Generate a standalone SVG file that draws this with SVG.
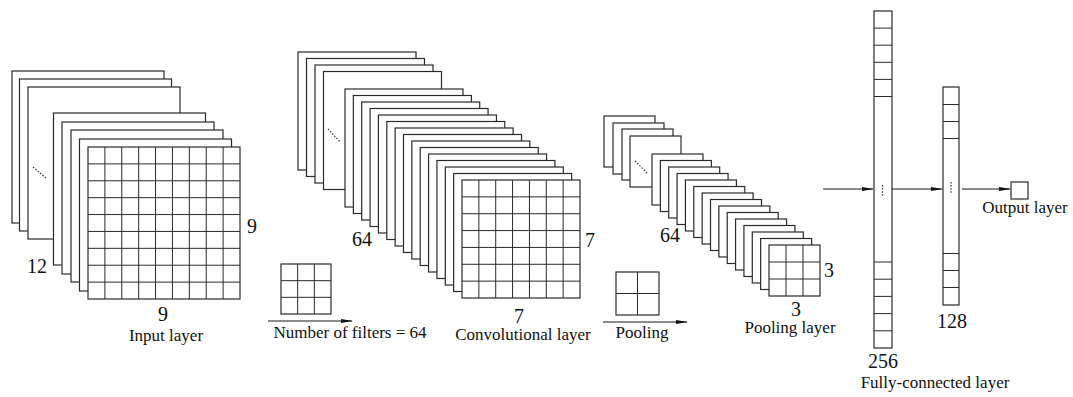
<svg xmlns="http://www.w3.org/2000/svg" width="1073" height="397" viewBox="0 0 1073 397">
<style>
.sh{fill:#fff;stroke:#2a2a2a;stroke-width:1.2}
.gl{stroke:#2a2a2a;stroke-width:1;fill:none}
.dt{stroke:#333;stroke-width:1.2;stroke-dasharray:1.5 1.6;fill:none}
.ar{stroke:#1a1a1a;stroke-width:1.1;fill:none;marker-end:url(#ah)}
.num{font-family:"Liberation Serif","Times New Roman",serif;font-size:20px;fill:#111;text-anchor:middle}
.lbl{font-family:"Liberation Serif","Times New Roman",serif;font-size:17px;fill:#111;text-anchor:middle}
</style>
<defs>
<marker id="ah" markerUnits="userSpaceOnUse" markerWidth="12" markerHeight="6" refX="11" refY="3" orient="auto">
<path d="M0,1 L12,3 L0,5 z" fill="#111"/>
</marker>
</defs>
<rect width="1073" height="397" fill="#fff"/>

<g id="input-layer">
<rect class="sh" x="12" y="71" width="152" height="152"/>
<rect class="sh" x="19.5" y="79" width="152" height="152"/>
<rect class="sh" x="28" y="87" width="152" height="152"/>
<line class="dt" x1="33" y1="167" x2="46" y2="178"/>
<rect class="sh" x="53.5" y="113" width="152" height="152"/>
<rect class="sh" x="62" y="122" width="152" height="152"/>
<rect class="sh" x="71" y="130" width="152" height="152"/>
<rect class="sh" x="79.5" y="139" width="152" height="152"/>
<rect class="sh" x="88" y="147" width="152" height="152"/>
<path class="gl" d="M104.89,147V299M121.78,147V299M138.67,147V299M155.56,147V299M172.44,147V299M189.33,147V299M206.22,147V299M223.11,147V299M88,163.89H240M88,180.78H240M88,197.67H240M88,214.56H240M88,231.44H240M88,248.33H240M88,265.22H240M88,282.11H240"/>
<text class="num" x="37" y="273">12</text>
<text class="num" x="252" y="233">9</text>
<text class="num" x="163" y="321">9</text>
<text class="lbl" x="166" y="341">Input layer</text>
</g>

<g id="conv-filter">
<rect class="sh" x="281" y="264" width="50" height="50"/>
<path class="gl" d="M297.67,264V314M314.33,264V314M281,280.67H331M281,297.33H331"/>
</g>

<g id="conv-layer">
<rect class="sh" x="298" y="52" width="118" height="118"/>
<rect class="sh" x="306.5" y="58.5" width="118" height="118"/>
<rect class="sh" x="315" y="65" width="118" height="118"/>
<rect class="sh" x="323.5" y="71.5" width="118" height="118"/>
<line class="dt" x1="328" y1="129" x2="340" y2="142"/>
<rect class="sh" x="345" y="89" width="118" height="118"/>
<rect class="sh" x="353.36" y="95.5" width="118" height="118"/>
<rect class="sh" x="361.71" y="102" width="118" height="118"/>
<rect class="sh" x="370.07" y="108.5" width="118" height="118"/>
<rect class="sh" x="378.43" y="115" width="118" height="118"/>
<rect class="sh" x="386.79" y="121.5" width="118" height="118"/>
<rect class="sh" x="395.14" y="128" width="118" height="118"/>
<rect class="sh" x="403.5" y="134.5" width="118" height="118"/>
<rect class="sh" x="411.86" y="141" width="118" height="118"/>
<rect class="sh" x="420.21" y="147.5" width="118" height="118"/>
<rect class="sh" x="428.57" y="154" width="118" height="118"/>
<rect class="sh" x="436.93" y="160.5" width="118" height="118"/>
<rect class="sh" x="445.29" y="167" width="118" height="118"/>
<rect class="sh" x="453.64" y="173.5" width="118" height="118"/>
<rect class="sh" x="462" y="180" width="118" height="118"/>
<path class="gl" d="M478.86,180V298M495.71,180V298M512.57,180V298M529.43,180V298M546.29,180V298M563.14,180V298M462,196.86H580M462,213.71H580M462,230.57H580M462,247.43H580M462,264.29H580M462,281.14H580"/>
<text class="num" x="362" y="246">64</text>
<text class="num" x="590" y="247">7</text>
<text class="num" x="519" y="323">7</text>
<text class="lbl" x="523" y="340">Convolutional layer</text>
</g>

<g id="pool-filter">
<rect class="sh" x="616" y="272" width="43" height="43"/>
<path class="gl" d="M637.5,272V315M616,293.5H659"/>
</g>

<g id="pooling-layer">
<rect class="sh" x="604" y="116" width="51" height="51"/>
<rect class="sh" x="613" y="123" width="51" height="51"/>
<rect class="sh" x="622" y="129" width="51" height="51"/>
<rect class="sh" x="630" y="136" width="51" height="51"/>
<line class="dt" x1="635" y1="161" x2="647" y2="173"/>
<rect class="sh" x="652" y="154" width="51" height="51"/>
<rect class="sh" x="660.36" y="160.5" width="51" height="51"/>
<rect class="sh" x="668.71" y="167" width="51" height="51"/>
<rect class="sh" x="677.07" y="173.5" width="51" height="51"/>
<rect class="sh" x="685.43" y="180" width="51" height="51"/>
<rect class="sh" x="693.79" y="186.5" width="51" height="51"/>
<rect class="sh" x="702.14" y="193" width="51" height="51"/>
<rect class="sh" x="710.5" y="199.5" width="51" height="51"/>
<rect class="sh" x="718.86" y="206" width="51" height="51"/>
<rect class="sh" x="727.21" y="212.5" width="51" height="51"/>
<rect class="sh" x="735.57" y="219" width="51" height="51"/>
<rect class="sh" x="743.93" y="225.5" width="51" height="51"/>
<rect class="sh" x="752.29" y="232" width="51" height="51"/>
<rect class="sh" x="760.64" y="238.5" width="51" height="51"/>
<rect class="sh" x="769" y="245" width="51" height="51"/>
<path class="gl" d="M786,245V296M803,245V296M769,262H820M769,279H820"/>
<text class="num" x="670" y="242">64</text>
<text class="num" x="829" y="277">3</text>
<text class="num" x="796" y="316">3</text>
<text class="lbl" x="790" y="333">Pooling layer</text>
</g>

<g id="fc-256">
<rect class="sh" x="874" y="11" width="18" height="337"/>
<path class="gl" d="M874,28.1H892M874,45.2H892M874,62.3H892M874,79.4H892M874,96.5H892M874,262H892M874,279.2H892M874,296.4H892M874,313.6H892M874,330.8H892"/>
<line class="dt" x1="882.5" y1="185" x2="882.5" y2="197"/>
<text class="num" x="883" y="368">256</text>
</g>

<g id="fc-128">
<rect class="sh" x="943" y="87" width="16" height="218"/>
<path class="gl" d="M943,104.5H959M943,121.5H959M943,138.5H959M943,253.5H959M943,270.5H959M943,287.5H959"/>
<line class="dt" x1="951" y1="182" x2="951" y2="194"/>
<text class="num" x="952" y="328">128</text>
</g>

<g id="fc-label">
<text class="lbl" x="935" y="388">Fully-connected layer</text>
</g>

<g id="output-layer">
<rect class="sh" x="1011" y="182" width="17" height="17"/>
<text class="lbl" x="1025" y="213">Output layer</text>
</g>

<g id="connectors">
<line class="ar" x1="268" y1="321" x2="352" y2="321"/>
<text class="lbl" x="350" y="338">Number of filters = 64</text>
<line class="ar" x1="603" y1="322" x2="687" y2="322"/>
<text class="lbl" x="642" y="338">Pooling</text>
<line class="ar" x1="823" y1="189" x2="873" y2="189"/>
<line class="ar" x1="892" y1="189" x2="942" y2="189"/>
<line class="ar" x1="962" y1="189" x2="1010" y2="189"/>
</g>
</svg>
